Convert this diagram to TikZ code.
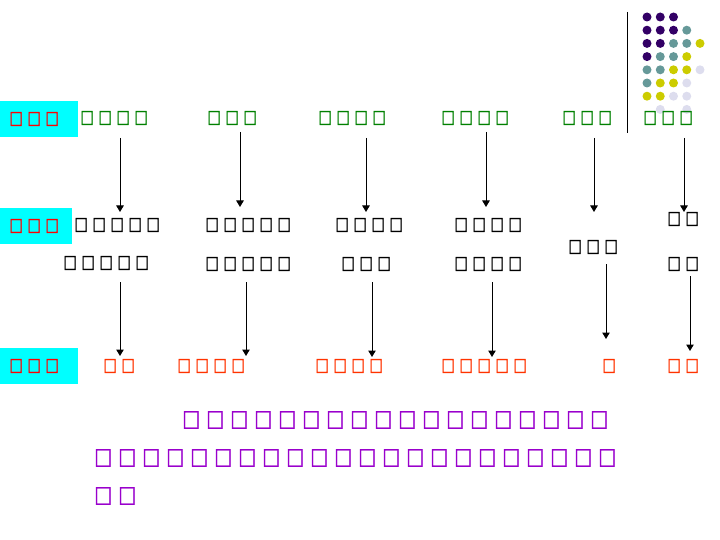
\documentclass[tikz,border=0pt]{standalone}
\usepackage{fontspec}
\usetikzlibrary{arrows.meta}
\newfontfamily\symfont[FakeBold=1.5]{DejaVu Sans}
\newlength\bxw
\newcommand\bxys{1.28}
\newcommand\bx{\makebox[\bxw]{\scalebox{1}[\bxys]{□}}}
\definecolor{bandcyan}{RGB}{0,255,255}
\definecolor{lblred}{HTML}{FF0000}
\definecolor{topgreen}{HTML}{008000}
\definecolor{botred}{HTML}{FF3300}
\definecolor{notepurple}{HTML}{9900CC}
\definecolor{dotP}{HTML}{330066}
\definecolor{dotT}{HTML}{669999}
\definecolor{dotY}{HTML}{CCCC00}
\definecolor{dotL}{HTML}{DDDDEE}
\tikzset{
  smalltxt/.style={inner sep=0pt, anchor=west, font={\symfont\fontsize{14.1}{14.1}\selectfont\setlength\bxw{18pt}\renewcommand\bxys{1.28}}},
  lbl/.style={smalltxt, text=lblred},
  toptxt/.style={smalltxt, text=topgreen},
  midtxt/.style={smalltxt, text=black},
  bottxt/.style={smalltxt, text=botred},
  notetxt/.style={inner sep=0pt, anchor=west, text=notepurple, font={\symfont\fontsize{18.8}{18.8}\selectfont\setlength\bxw{24pt}\renewcommand\bxys{1.22}}},
  conn/.style={line width=1pt, -{Triangle[width=7.5pt,length=6.5pt]}},
  band/.style={fill=bandcyan, draw=none, inner sep=0pt, anchor=north west},
}
\begin{document}
\begin{tikzpicture}[x=1pt,y=-1pt]
\useasboundingbox (0,0) rectangle (720,540);
% decoration dots
\foreach \c/\r/\col in {0/0/dotP,1/0/dotP,2/0/dotP,
  0/1/dotP,1/1/dotP,2/1/dotP,3/1/dotT,
  0/2/dotP,1/2/dotP,2/2/dotT,3/2/dotT,4/2/dotY,
  0/3/dotP,1/3/dotT,2/3/dotT,3/3/dotY,
  0/4/dotT,1/4/dotT,2/4/dotY,3/4/dotY,4/4/dotL,
  0/5/dotT,1/5/dotY,2/5/dotY,3/5/dotL,
  0/6/dotY,1/6/dotY,2/6/dotL,3/6/dotL,
  1/7/dotL,3/7/dotL}
  \fill[\col] ({647+13.25*\c},{17+13.2*\r}) circle (4.5);
\draw[line width=1pt] (627,12) -- (627,133);
% cyan bands
\node[band, minimum width=78pt, minimum height=36pt] (band1) at (0,101) {};
\node[band, minimum width=72pt, minimum height=36pt] (band2) at (0,208) {};
\node[band, minimum width=78pt, minimum height=36pt] (band3) at (0,348) {};
\node[lbl] (l1) at (7,119) {\bx\bx\bx};
\node[lbl] (l2) at (7,226) {\bx\bx\bx};
\node[lbl] (l3) at (7,366) {\bx\bx\bx};
% row 1
\node[toptxt] (g1) at (78,118) {\bx\bx\bx\bx};
\node[toptxt] (g2) at (205,118) {\bx\bx\bx};
\node[toptxt] (g3) at (316,118) {\bx\bx\bx\bx};
\node[toptxt] (g4) at (439,118) {\bx\bx\bx\bx};
\node[toptxt] (g5) at (560,118) {\bx\bx\bx};
\node[toptxt] (g6) at (641,118) {\bx\bx\bx};
% row 2
\node[midtxt] (b1a) at (72,225) {\bx\bx\bx\bx\bx};
\node[midtxt] (b1b) at (61,263) {\bx\bx\bx\bx\bx};
\node[midtxt] (b2a) at (203,225) {\bx\bx\bx\bx\bx};
\node[midtxt] (b2b) at (203,264) {\bx\bx\bx\bx\bx};
\node[midtxt] (b3a) at (333,225) {\bx\bx\bx\bx};
\node[midtxt] (b3b) at (339,264) {\bx\bx\bx};
\node[midtxt] (b4a) at (452,225) {\bx\bx\bx\bx};
\node[midtxt] (b4b) at (452,264) {\bx\bx\bx\bx};
\node[midtxt] (b5) at (566,247) {\bx\bx\bx};
\node[midtxt] (b6a) at (665,219) {\bx\bx};
\node[midtxt] (b6b) at (665,264) {\bx\bx};
% row 3
\node[bottxt] (d1) at (101,366) {\bx\bx};
\node[bottxt] (d2) at (175,366) {\bx\bx\bx\bx};
\node[bottxt] (d3) at (313,366) {\bx\bx\bx\bx};
\node[bottxt] (d4) at (439,366) {\bx\bx\bx\bx\bx};
\node[bottxt] (d5) at (600,366) {\bx};
\node[bottxt] (d6) at (665,366) {\bx\bx};
% note
\node[notetxt] (n1) at (179,420) {\bx\bx\bx\bx\bx\bx\bx\bx\bx\bx\bx\bx\bx\bx\bx\bx\bx\bx};
\node[notetxt] (n2) at (91,458) {\bx\bx\bx\bx\bx\bx\bx\bx\bx\bx\bx\bx\bx\bx\bx\bx\bx\bx\bx\bx\bx\bx};
\node[notetxt] (n3) at (91,496) {\bx\bx};
% connectors
\coordinate (a1s) at (120,138); \coordinate (a1e) at (120,212);
\coordinate (a2s) at (240,132); \coordinate (a2e) at (240,207);
\coordinate (a3s) at (366,138); \coordinate (a3e) at (366,212);
\coordinate (a4s) at (486,132); \coordinate (a4e) at (486,207);
\coordinate (a5s) at (594,138); \coordinate (a5e) at (594,212);
\coordinate (a6s) at (684,138); \coordinate (a6e) at (684,212);
\coordinate (c1s) at (120,282); \coordinate (c1e) at (120,356);
\coordinate (c2s) at (246,282); \coordinate (c2e) at (246,356);
\coordinate (c3s) at (372,282); \coordinate (c3e) at (372,357);
\coordinate (c4s) at (492,282); \coordinate (c4e) at (492,357);
\coordinate (c5s) at (606,264); \coordinate (c5e) at (606,339);
\coordinate (c6s) at (690,276); \coordinate (c6e) at (690,351);
\foreach \p in {a1,a2,a3,a4,a5,a6,c1,c2,c3,c4,c5,c6}
  \draw[conn] (\p s) -- (\p e);
\end{tikzpicture}
\end{document}
